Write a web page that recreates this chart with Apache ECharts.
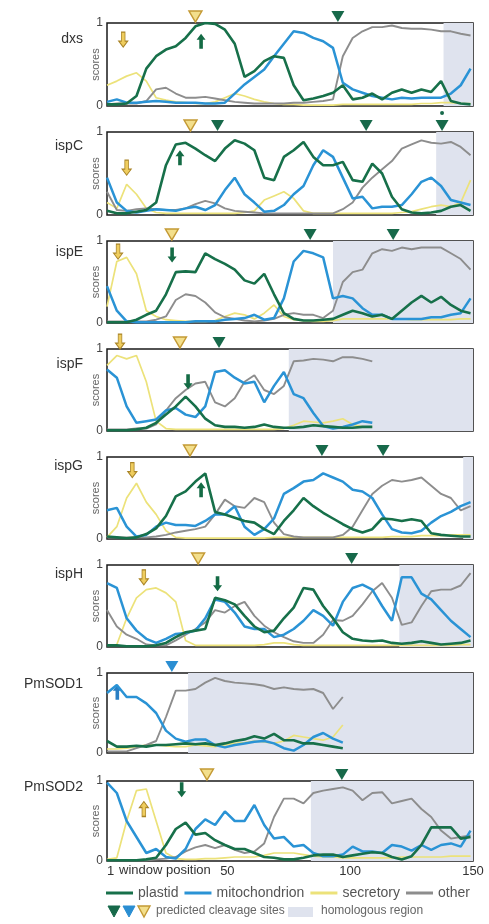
<!DOCTYPE html>
<html><head><meta charset="utf-8">
<script src="https://cdn.jsdelivr.net/npm/echarts@6/dist/echarts.min.js"></script>
<style>html,body{margin:0;padding:0;background:#fff}#c{width:489px;height:924px}</style>
</head><body><div id="c"></div>
<script>
// window positions sampled along the protein (x values)
const positions = [1,5,9,13,17,21,25,29,33,37,41,45,49,53,57,61,65,69,73,77,81,85,89,93,97,101,105,109,113,117,121,125,129,133,137,141,145,149];

const genes = ['dxs','ispC','ispE','ispF','ispG','ispH','PmSOD1','PmSOD2'];
const xTicks = [1,50,100,150];
const yTicks = [0,1];

// dxs
const dxsPlastid   = [0.02,0.02,0.03,0.12,0.45,0.6,0.68,0.72,0.82,0.96,1.0,0.99,0.92,0.75,0.35,0.42,0.54,0.6,0.58,0.25,0.07,0.09,0.12,0.16,0.25,0.08,0.1,0.15,0.08,0.16,0.2,0.16,0.2,0.17,0.3,0.06,0.03,0.02];
const dxsMito      = [0.05,0.08,0.04,0.04,0.05,0.06,0.05,0.04,0.04,0.04,0.03,0.03,0.04,0.15,0.26,0.35,0.44,0.6,0.75,0.9,0.88,0.82,0.78,0.7,0.28,0.2,0.16,0.12,0.1,0.08,0.1,0.09,0.1,0.1,0.1,0.15,0.25,0.45];
const dxsSecretory = [0.25,0.3,0.36,0.4,0.3,0.1,0.07,0.05,0.04,0.03,0.03,0.05,0.1,0.15,0.12,0.08,0.05,0.03,0.02,0.02,0.01,0.01,0.01,0.01,0.02,0.02,0.02,0.02,0.02,0.02,0.02,0.02,0.03,0.03,0.04,0.04,0.03,0.03];
const dxsOther     = [0.02,0.03,0.03,0.03,0.06,0.2,0.22,0.15,0.1,0.1,0.11,0.09,0.07,0.05,0.04,0.03,0.03,0.03,0.03,0.04,0.04,0.05,0.06,0.08,0.6,0.82,0.9,0.95,0.95,0.97,0.94,0.93,0.93,0.92,0.9,0.9,0.87,0.85];
// ispC
const ispCPlastid   = [0.05,0.02,0.02,0.04,0.06,0.15,0.6,0.85,0.87,0.8,0.72,0.65,0.8,0.9,0.86,0.78,0.45,0.42,0.7,0.78,0.88,0.7,0.6,0.6,0.64,0.42,0.4,0.62,0.5,0.22,0.07,0.03,0.02,0.03,0.05,0.1,0.12,0.05];
const ispCMito      = [0.45,0.15,0.05,0.03,0.05,0.07,0.06,0.05,0.08,0.1,0.06,0.12,0.3,0.45,0.25,0.15,0.04,0.05,0.12,0.25,0.35,0.6,0.78,0.7,0.45,0.2,0.22,0.08,0.1,0.1,0.12,0.25,0.4,0.45,0.35,0.18,0.15,0.12];
const ispCSecretory = [0.15,0.08,0.37,0.25,0.08,0.03,0.02,0.02,0.02,0.02,0.02,0.02,0.02,0.02,0.03,0.05,0.18,0.23,0.28,0.2,0.05,0.02,0.02,0.02,0.02,0.02,0.02,0.02,0.02,0.02,0.03,0.04,0.07,0.1,0.12,0.1,0.15,0.42];
const ispCOther     = [0.28,0.06,0.05,0.07,0.08,0.07,0.06,0.06,0.08,0.13,0.17,0.14,0.08,0.05,0.04,0.03,0.02,0.02,0.02,0.02,0.02,0.02,0.02,0.02,0.07,0.15,0.33,0.45,0.55,0.65,0.8,0.85,0.9,0.87,0.86,0.88,0.82,0.72];
// ispE
const ispEPlastid   = [0.01,0.01,0.01,0.04,0.1,0.15,0.35,0.62,0.63,0.62,0.85,0.78,0.72,0.65,0.52,0.48,0.6,0.35,0.12,0.05,0.03,0.03,0.04,0.05,0.1,0.15,0.12,0.08,0.1,0.05,0.15,0.25,0.33,0.25,0.32,0.22,0.15,0.12];
const ispEMito      = [0.45,0.15,0.02,0.01,0.01,0.01,0.01,0.01,0.01,0.02,0.02,0.02,0.04,0.05,0.06,0.1,0.04,0.06,0.3,0.75,0.88,0.85,0.8,0.3,0.33,0.3,0.18,0.1,0.1,0.05,0.05,0.05,0.05,0.07,0.07,0.1,0.12,0.3];
const ispESecretory = [0.2,0.75,0.8,0.6,0.15,0.08,0.04,0.03,0.02,0.02,0.02,0.03,0.08,0.12,0.1,0.05,0.12,0.22,0.08,0.04,0.03,0.02,0.02,0.03,0.05,0.05,0.05,0.05,0.05,0.05,0.05,0.04,0.04,0.04,0.04,0.04,0.05,0.05];
const ispEOther     = [0.02,0.02,0.02,0.02,0.02,0.04,0.08,0.28,0.35,0.33,0.25,0.13,0.07,0.05,0.03,0.02,0.03,0.05,0.1,0.12,0.1,0.1,0.06,0.15,0.5,0.62,0.65,0.85,0.9,0.88,0.92,0.9,0.92,0.92,0.92,0.85,0.78,0.65];
// ispF (sequence ends near position 109)
const ispFPlastid   = [0.01,0.01,0.01,0.02,0.04,0.1,0.2,0.3,0.42,0.3,0.15,0.07,0.05,0.05,0.04,0.05,0.08,0.05,0.04,0.04,0.05,0.07,0.06,0.05,0.04,0.04,0.05,0.05];
const ispFMito      = [0.75,0.65,0.3,0.1,0.12,0.14,0.25,0.28,0.2,0.17,0.3,0.72,0.74,0.65,0.58,0.6,0.35,0.55,0.72,0.45,0.4,0.22,0.06,0.03,0.05,0.08,0.12,0.1];
const ispFSecretory = [0.8,0.92,0.88,0.92,0.6,0.12,0.03,0.02,0.02,0.02,0.02,0.02,0.02,0.02,0.02,0.02,0.02,0.02,0.03,0.07,0.12,0.11,0.1,0.12,0.15,0.08,0.05,0.05];
const ispFOther     = [0.02,0.02,0.02,0.03,0.03,0.08,0.25,0.4,0.5,0.58,0.6,0.35,0.3,0.4,0.6,0.68,0.5,0.45,0.55,0.85,0.86,0.88,0.87,0.85,0.9,0.9,0.88,0.85];
// ispG
const ispGPlastid   = [0.03,0.02,0.01,0.02,0.06,0.13,0.28,0.52,0.58,0.7,0.8,0.33,0.3,0.26,0.22,0.2,0.12,0.06,0.22,0.35,0.5,0.4,0.32,0.25,0.18,0.12,0.08,0.12,0.25,0.24,0.22,0.24,0.22,0.07,0.05,0.04,0.03,0.03];
const ispGMito      = [0.35,0.38,0.15,0.03,0.05,0.15,0.2,0.17,0.17,0.16,0.22,0.3,0.3,0.4,0.15,0.05,0.12,0.25,0.55,0.62,0.7,0.72,0.8,0.75,0.7,0.6,0.58,0.5,0.3,0.12,0.08,0.07,0.1,0.2,0.28,0.33,0.4,0.45];
const ispGSecretory = [0.02,0.15,0.5,0.68,0.45,0.3,0.1,0.02,0.01,0.01,0.01,0.01,0.01,0.01,0.01,0.01,0.01,0.02,0.02,0.02,0.02,0.02,0.02,0.02,0.02,0.02,0.02,0.02,0.02,0.03,0.03,0.03,0.04,0.04,0.04,0.05,0.05,0.05];
const ispGOther     = [0.02,0.02,0.02,0.02,0.02,0.03,0.05,0.08,0.1,0.12,0.15,0.3,0.48,0.4,0.38,0.5,0.45,0.2,0.06,0.03,0.02,0.02,0.02,0.02,0.05,0.15,0.35,0.55,0.65,0.72,0.7,0.72,0.75,0.65,0.55,0.5,0.35,0.4];
// ispH
const ispHPlastid   = [0.02,0.02,0.01,0.01,0.01,0.02,0.05,0.12,0.18,0.2,0.22,0.6,0.57,0.52,0.38,0.25,0.18,0.2,0.35,0.48,0.72,0.7,0.5,0.35,0.18,0.1,0.08,0.07,0.08,0.05,0.04,0.05,0.07,0.05,0.03,0.04,0.05,0.08];
const ispHMito      = [0.78,0.72,0.35,0.2,0.1,0.05,0.1,0.16,0.17,0.2,0.35,0.58,0.55,0.42,0.25,0.22,0.22,0.12,0.15,0.22,0.32,0.45,0.38,0.26,0.55,0.72,0.76,0.7,0.5,0.32,0.85,0.85,0.65,0.58,0.45,0.32,0.22,0.12];
const ispHSecretory = [0.02,0.03,0.35,0.6,0.7,0.72,0.66,0.55,0.08,0.02,0.02,0.02,0.02,0.02,0.02,0.02,0.03,0.05,0.05,0.03,0.02,0.02,0.02,0.02,0.02,0.02,0.02,0.02,0.02,0.02,0.02,0.02,0.02,0.02,0.02,0.02,0.03,0.03];
const ispHOther     = [0.45,0.25,0.15,0.1,0.03,0.02,0.02,0.08,0.15,0.22,0.3,0.45,0.42,0.5,0.55,0.38,0.26,0.18,0.12,0.07,0.05,0.05,0.15,0.33,0.32,0.38,0.52,0.68,0.78,0.6,0.27,0.3,0.5,0.68,0.7,0.7,0.75,0.9];
// PmSOD1 (sequence ends near position 97)
const sod1Plastid   = [0.15,0.08,0.08,0.09,0.08,0.1,0.1,0.11,0.12,0.11,0.12,0.1,0.12,0.15,0.17,0.21,0.18,0.24,0.16,0.16,0.12,0.12,0.1,0.08,0.06];
const sod1Mito      = [0.75,0.85,0.7,0.7,0.62,0.5,0.28,0.18,0.14,0.17,0.17,0.1,0.07,0.1,0.12,0.14,0.15,0.12,0.06,0.03,0.1,0.2,0.25,0.18,0.13];
const sod1Secretory = [0.05,0.05,0.06,0.08,0.1,0.1,0.09,0.08,0.08,0.1,0.09,0.08,0.1,0.12,0.13,0.15,0.14,0.12,0.15,0.22,0.2,0.18,0.16,0.2,0.35];
const sod1Other     = [0.02,0.02,0.02,0.06,0.1,0.15,0.45,0.78,0.78,0.8,0.88,0.94,0.9,0.88,0.87,0.86,0.84,0.8,0.82,0.8,0.79,0.8,0.75,0.55,0.7];
// PmSOD2
const sod2Plastid   = [0.01,0.01,0.01,0.01,0.02,0.04,0.2,0.4,0.48,0.33,0.35,0.26,0.2,0.15,0.15,0.1,0.05,0.04,0.02,0.02,0.04,0.07,0.08,0.08,0.05,0.07,0.09,0.11,0.1,0.05,0.02,0.06,0.2,0.42,0.42,0.42,0.28,0.3];
const sod2Mito      = [0.98,0.85,0.5,0.3,0.1,0.15,0.05,0.03,0.15,0.4,0.52,0.45,0.62,0.5,0.5,0.7,0.45,0.28,0.3,0.18,0.2,0.1,0.06,0.06,0.08,0.18,0.12,0.12,0.1,0.2,0.18,0.13,0.2,0.14,0.2,0.22,0.18,0.38];
const sod2Secretory = [0.02,0.04,0.5,0.88,0.9,0.5,0.1,0.03,0.02,0.02,0.03,0.03,0.04,0.05,0.05,0.05,0.07,0.1,0.1,0.1,0.08,0.06,0.05,0.05,0.04,0.04,0.04,0.04,0.04,0.04,0.05,0.05,0.05,0.05,0.05,0.06,0.06,0.06];
const sod2Other     = [0.01,0.01,0.01,0.01,0.01,0.02,0.03,0.05,0.12,0.17,0.2,0.16,0.2,0.14,0.1,0.12,0.22,0.55,0.78,0.78,0.72,0.85,0.88,0.9,0.92,0.88,0.76,0.85,0.86,0.72,0.75,0.78,0.65,0.55,0.38,0.28,0.3,0.32];

const panelPlastid   = [dxsPlastid, ispCPlastid, ispEPlastid, ispFPlastid, ispGPlastid, ispHPlastid, sod1Plastid, sod2Plastid];
const panelMito      = [dxsMito, ispCMito, ispEMito, ispFMito, ispGMito, ispHMito, sod1Mito, sod2Mito];
const panelSecretory = [dxsSecretory, ispCSecretory, ispESecretory, ispFSecretory, ispGSecretory, ispHSecretory, sod1Secretory, sod2Secretory];
const panelOther     = [dxsOther, ispCOther, ispEOther, ispFOther, ispGOther, ispHOther, sod1Other, sod2Other];

// homologous region start (window position) for each panel, to the end at 150
const homologyStart = [138, 135, 93, 75, 146, 120, 34, 84];
const homologyEnd = 150;

// predicted cleavage sites: [position, type]
const cleavageSites = [
  [[37,'secretory'],[95,'plastid']],
  [[35,'secretory'],[46,'plastid'],[106.5,'plastid'],[137.4,'plastid']],
  [[27.4,'secretory'],[83.7,'plastid'],[117.5,'plastid']],
  [[30.7,'secretory'],[46.6,'plastid']],
  [[34.8,'secretory'],[88.5,'plastid'],[113.4,'plastid']],
  [[38.1,'secretory'],[100.6,'plastid']],
  [[27.4,'mitochondrion']],
  [[41.7,'secretory'],[96.6,'plastid']]
];
// arrows: [position, score at arrow centre, direction, type]
const arrowMarks = [
  [[7.6,0.8,'down','secretory'],[39.3,0.78,'up','plastid']],
  [[9,0.57,'down','secretory'],[30.7,0.69,'up','plastid']],
  [[5.5,0.87,'down','secretory'],[27.5,0.83,'down','plastid']],
  [[6.3,1.09,'down','secretory'],[34,0.6,'down','plastid']],
  [[11.3,0.84,'down','secretory'],[39.3,0.6,'up','plastid']],
  [[16,0.85,'down','secretory'],[46,0.77,'down','plastid']],
  [[5.2,0.76,'up','mitochondrion']],
  [[16,0.65,'up','secretory'],[31.4,0.89,'down','plastid']]
];

// ---------- layout / style ----------
const FONT = "'Liberation Sans', Arial, sans-serif";
const LEFT = 107, RIGHT = 16;
const gridTops = [23,132,241,349,457,565,673,781];
const gridHeights = [83,83,82,82,82,82,80,80];
const labelY = [40,147,253,365,467,575,685,788];
const COL = {plastid:'#17704a', mitochondrion:'#2a93d5', secretory:'#ece27a', other:'#8d8d8d'};
const WIDTH = {plastid:2.6, mitochondrion:2.5, secretory:1.7, other:1.9};
const TRI = {
  plastid:{color:'#17694a'},
  mitochondrion:{color:'#2a8ed2'},
  secretory:{color:'#f3df8c', borderColor:'#c49a35', borderWidth:1.4}
};
const ARROW = {
  plastid:{color:'#146b45'},
  mitochondrion:{color:'#2a7fc4'},
  secretory:{color:'#efcd5e', borderColor:'#a98426', borderWidth:1}
};
const triPath = 'path://M0,0L12,0L6,11Z';
const downPath = 'path://M3,0L7,0L7,9L10,9L5,15L0,9L3,9Z';
const upPath = 'path://M5,0L10,6L7,6L7,15L3,15L3,6L0,6Z';

const grids = [], xAxes = [], yAxes = [], series = [];
const nameOrder = ['secretory','other','mitochondrion','plastid'];
const graphics = [];

genes.forEach((g, i) => {
  const last = i === genes.length - 1;
  grids.push({left: LEFT, right: RIGHT, top: gridTops[i], height: gridHeights[i],
    show: true, borderColor: '#1a1a1a', borderWidth: 1.5, backgroundColor: 'transparent'});
  xAxes.push({type:'value', gridIndex:i, min:1, max:150,
    axisLine:{show:false}, axisTick:{show:false}, splitLine:{show:false},
    axisLabel: last ? {show:true, customValues:xTicks, fontSize:13, color:'#333', margin:4,
      fontFamily:FONT, alignMinLabel:'left'} : {show:false}});
  yAxes.push({type:'value', gridIndex:i, min:0, max:1, interval:1,
    axisLine:{show:false}, axisTick:{show:false}, splitLine:{show:false},
    axisLabel:{show:true, customValues:yTicks, fontSize:12, color:'#444', margin:4, fontFamily:FONT},
    name:'scores', nameLocation:'middle', nameGap:6, nameMoveOverlap:false,
    nameTextStyle:{fontSize:11, color:'#666', fontFamily:FONT}});

  const src = {plastid:panelPlastid[i], mitochondrion:panelMito[i], secretory:panelSecretory[i], other:panelOther[i]};
  nameOrder.forEach((nm, k) => {
    const s = {
      type:'line', name:nm, xAxisIndex:i, yAxisIndex:i,
      data: src[nm].map((v, j) => [positions[j], v]),
      showSymbol:false, symbol:'none', smooth:false,
      color: COL[nm],
      lineStyle:{color:COL[nm], width:WIDTH[nm]},
      z: 3 + k, silent:true
    };
    if (nm === 'secretory') {
      s.markArea = {silent:true, itemStyle:{color:'#dfe3ee'},
        data:[[{xAxis:homologyStart[i]},{xAxis:homologyEnd}]]};
    }
    if (nm === 'plastid') {
      const h = gridHeights[i];
      const mp = [];
      cleavageSites[i].forEach(([x, t]) => {
        mp.push({coord:[x,1], symbol:triPath, symbolSize:[13,11], symbolOffset:[0,-6.5], itemStyle:TRI[t]});
      });
      arrowMarks[i].forEach(([x, y, dir, t]) => {
        let cy = y, off = 0;
        if (y > 1) { cy = 1; off = -(y - 1) * h; }
        mp.push({coord:[x,cy], symbol: dir === 'down' ? downPath : upPath, symbolSize:[9,15],
          symbolOffset:[0,off], itemStyle:ARROW[t]});
      });
      if (g === 'ispC') {
        mp.push({coord:[137.4,1], symbol:'circle', symbolSize:4, symbolOffset:[0,-19], itemStyle:{color:'#17694a'}});
      }
      s.markPoint = {silent:true, label:{show:false}, data: mp, animation:false};
    }
    series.push(s);
  });

  graphics.push({type:'text', right: 489 - 83, top: labelY[i] - 8,
    style:{text:g, font:'14px ' + FONT, fill:'#333', textAlign:'right'}});
});

// x axis caption on the bottom panel
graphics.push({type:'text', left:119, top:864, style:{text:'window position', font:'13px ' + FONT, fill:'#333'}});
// second legend row: cleavage-site triangles and homologous region swatch
const triLegend = [['plastid',108],['mitochondrion',123],['secretory',138]];
triLegend.forEach(([t, x]) => {
  const st = TRI[t];
  graphics.push({type:'polygon', shape:{points:[[x,906],[x+12,906],[x+6,917]]},
    style:{fill:st.color, stroke:st.borderColor || st.color, lineWidth:st.borderWidth || 1}});
});
graphics.push({type:'text', left:156, top:905, style:{text:'predicted cleavage sites', font:'12px ' + FONT, fill:'#666'}});
graphics.push({type:'rect', shape:{x:288, y:907, width:25, height:10}, style:{fill:'#dfe3ee'}});
graphics.push({type:'text', left:321, top:905, style:{text:'homologous region', font:'12px ' + FONT, fill:'#666'}});

const chart = echarts.init(document.getElementById('c'), null, {renderer:'canvas'});
chart.setOption({
  animation:false,
  backgroundColor:'#fff',
  grid: grids, xAxis: xAxes, yAxis: yAxes, series: series,
  legend:{left:106, top:886, itemWidth:27, itemHeight:3, itemGap:6, icon:'rect', padding:0,
    selectedMode:false, data:['plastid','mitochondrion','secretory','other'],
    textStyle:{fontSize:14, color:'#555', fontFamily:FONT}},
  graphic: graphics
});
</script></body></html>
